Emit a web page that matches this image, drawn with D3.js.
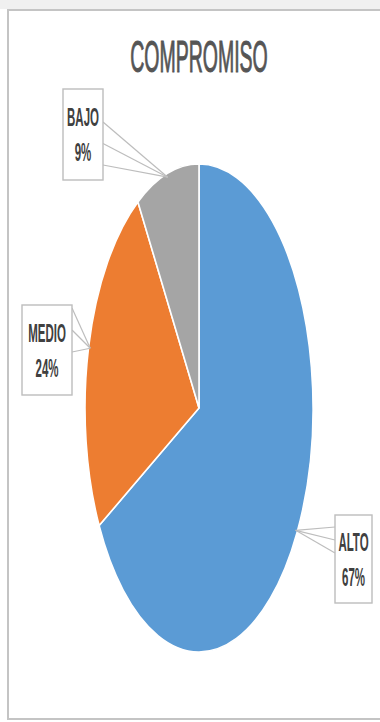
<!DOCTYPE html>
<html>
<head>
<meta charset="utf-8">
<script src="https://cdn.jsdelivr.net/npm/d3@7"></script>
<style>
  html, body { margin: 0; padding: 0; background: #fff; }
  svg { display: block; }
  text { font-family: "Liberation Sans", Arial, sans-serif; }
</style>
</head>
<body>
<svg id="chart" width="380" height="722"></svg>
<script>
// Commitment level breakdown
const chartTitle = "COMPROMISO";
const categories = ["ALTO", "MEDIO", "BAJO"];
const shares = [67, 24, 9];
const colors = ["#5b9bd5", "#ed7d31", "#a5a5a5"];

// Label callout boxes: [x0, y0, x1, y1] and the side the pointer leaves from
const labelBoxes = [
  { box: [335, 515, 372, 603], side: "left",  base: [527, 553] },
  { box: [22, 305, 72, 395],   side: "right", base: [308, 352] },
  { box: [63, 89, 103, 180],   side: "right", base: [122, 165] }
];

const svg = d3.select("#chart");
const W = 380, H = 722;

// Top strip and chart frame
svg.append("rect").attr("x", 0).attr("y", 0).attr("width", W).attr("height", 9)
  .attr("fill", "#f0f0f0");
svg.append("rect").attr("x", 8).attr("y", 10).attr("width", W + 10).attr("height", 709)
  .attr("fill", "#fff").attr("stroke", "#c4c4c4").attr("stroke-width", 2);

// Title (text is drawn vertically stretched, like the rest of the chart)
const sy = 2.2;
svg.append("g").attr("transform", `translate(199,72) scale(1,${2.3})`)
  .append("text")
  .attr("text-anchor", "middle")
  .attr("font-size", 19.5)
  .attr("fill", "#555")
  .attr("stroke", "#555")
  .attr("stroke-width", 0.45)
  .text(chartTitle);

// Elliptical pie: circle arcs scaled vertically
const cx = 199, cy = 408, rx = 114, ry = 244;
const pie = d3.pie().sort(null).value(d => d)(shares);
const arc = d3.arc().innerRadius(0).outerRadius(rx);

const pieG = svg.append("g").attr("transform", `translate(${cx},${cy}) scale(1,${ry / rx})`);
pieG.selectAll("path").data(pie).join("path")
  .attr("d", arc)
  .attr("fill", (d, i) => colors[i])
  .attr("stroke", "#fff")
  .attr("stroke-width", 1.6)
  .attr("vector-effect", "non-scaling-stroke");

// Point on the ellipse edge at the slice's middle angle
function edgePoint(d, k) {
  const a = (d.startAngle + d.endAngle) / 2;
  return [cx + rx * k * Math.sin(a), cy - ry * k * Math.cos(a)];
}

// Callouts
pie.forEach((d, i) => {
  const lb = labelBoxes[i];
  const [x0, y0, x1, y1] = lb.box;
  const tip = edgePoint(d, 0.985);
  const bx = lb.side === "left" ? x0 : x1;
  const ys = [lb.base[0], (lb.base[0] + lb.base[1]) / 2, lb.base[1]];
  ys.forEach(yb => {
    svg.append("line")
      .attr("x1", bx).attr("y1", yb).attr("x2", tip[0]).attr("y2", tip[1])
      .attr("stroke", "#bdbdbd").attr("stroke-width", 1.2);
  });
  svg.append("rect")
    .attr("x", x0).attr("y", y0).attr("width", x1 - x0).attr("height", y1 - y0)
    .attr("fill", "#fff").attr("stroke", "#bdbdbd").attr("stroke-width", 1.4);

  const mx = (x0 + x1) / 2;
  const cap = 8.6 * sy;
  const gap = (y1 - y0 - 2 * cap) / 3.3;
  const b1 = y0 + gap * 1.15 + cap;
  const b2 = b1 + gap + cap;
  [[categories[i], b1], [shares[i] + "%", b2]].forEach(([t, b]) => {
    svg.append("g").attr("transform", `translate(${mx},${b}) scale(1,${sy})`)
      .append("text")
      .attr("text-anchor", "middle")
      .attr("font-size", 11.5)
      .attr("font-weight", "bold")
      .attr("fill", "#404040")
      .text(t);
  });
});
</script>
</body>
</html>
